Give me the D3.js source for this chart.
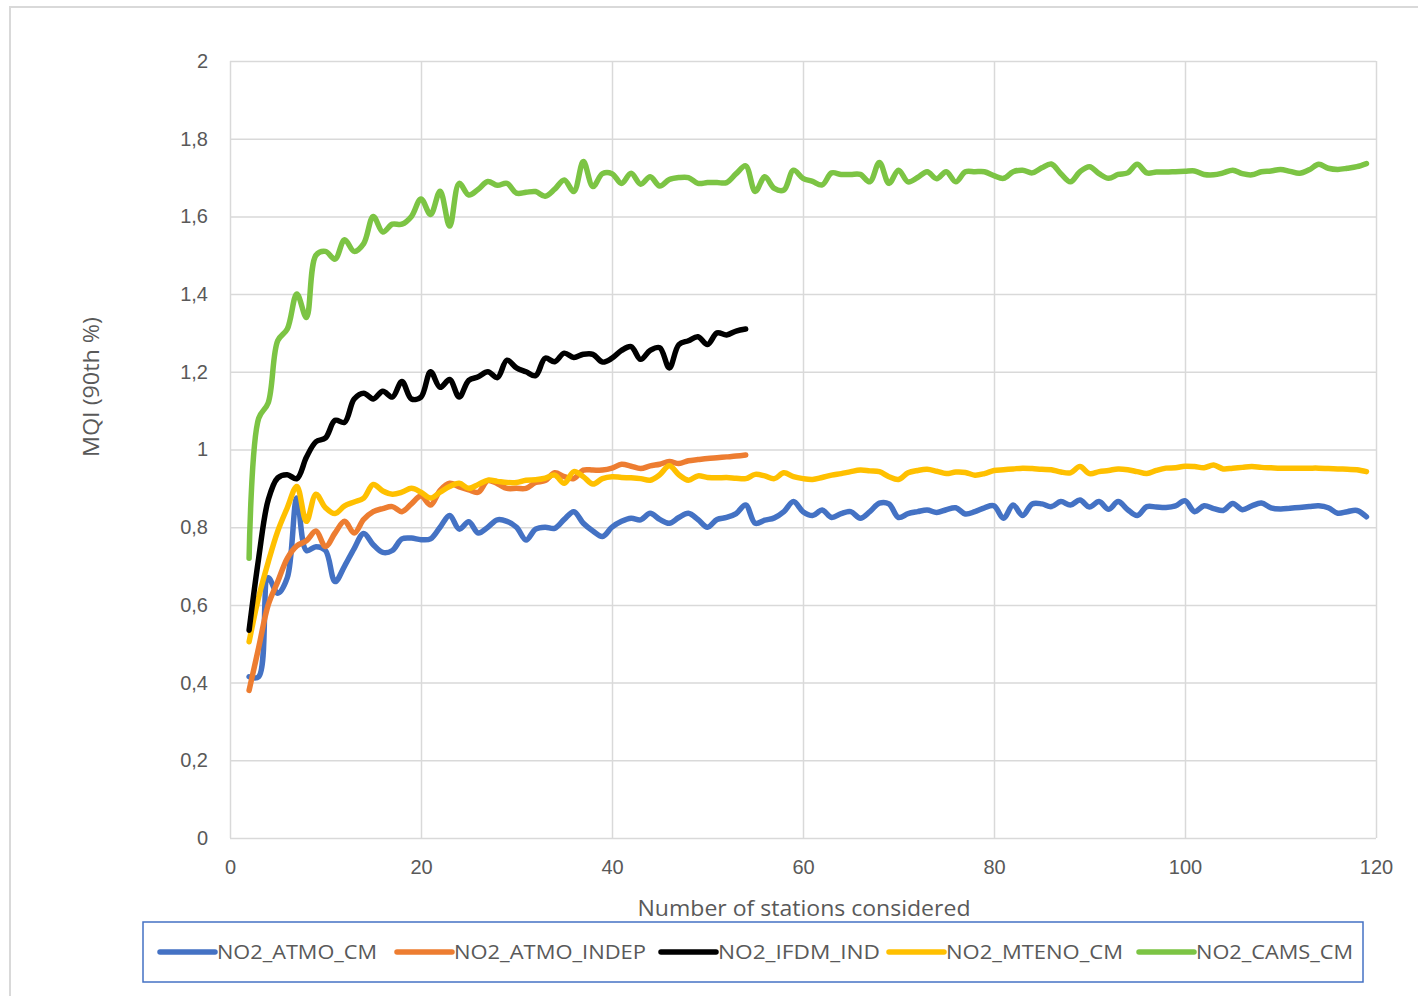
<!DOCTYPE html>
<html>
<head>
<meta charset="utf-8">
<script src="https://cdn.jsdelivr.net/npm/d3@7"></script>
<style>
  html, body { margin: 0; padding: 0; background: #fff; }
  svg { display: block; font-family: "Open Sans", "Noto Sans", sans-serif; }
</style>
</head>
<body>
<svg id="chart" width="1418" height="996"></svg>
<script>
// Number of stations considered: 2 .. 119
const stationsLong = d3.range(2, 120);
const stationsShort = d3.range(2, 55);

const atmoCM = [0.415,0.415,0.67,0.63,0.67,0.875,0.74,0.75,0.74,0.66,0.70,0.745,0.784,0.755,0.735,0.74,0.77,0.772,0.768,0.77,
  0.80,0.83,0.795,0.814,0.785,0.80,0.819,0.815,0.80,0.767,0.795,0.80,0.797,0.82,0.84,0.81,0.79,0.776,0.80,0.815,
  0.823,0.819,0.836,0.82,0.81,0.825,0.836,0.82,0.80,0.82,0.825,0.835,0.857,0.81,0.818,0.824,0.84,0.866,0.84,0.83,
  0.844,0.825,0.835,0.84,0.823,0.84,0.862,0.86,0.825,0.835,0.84,0.844,0.838,0.845,0.85,0.834,0.84,0.85,0.855,0.823,
  0.857,0.83,0.86,0.86,0.853,0.866,0.857,0.87,0.852,0.866,0.846,0.866,0.845,0.83,0.853,0.852,0.851,0.855,0.868,0.84,
  0.855,0.848,0.843,0.861,0.845,0.855,0.862,0.85,0.847,0.849,0.851,0.853,0.855,0.85,0.836,0.84,0.843,0.827];

const atmoIndep = [0.38,0.49,0.60,0.66,0.72,0.752,0.765,0.79,0.75,0.785,0.815,0.785,0.82,0.84,0.848,0.853,0.84,0.86,0.88,0.857,
  0.895,0.913,0.904,0.896,0.89,0.92,0.912,0.90,0.90,0.90,0.915,0.92,0.94,0.93,0.925,0.947,0.947,0.947,0.952,0.962,
  0.957,0.951,0.958,0.962,0.969,0.964,0.971,0.974,0.977,0.979,0.981,0.983,0.986];

const ifdmInd = [0.535,0.72,0.87,0.927,0.935,0.925,0.98,1.02,1.03,1.075,1.07,1.13,1.145,1.13,1.15,1.135,1.175,1.13,1.135,1.20,
  1.16,1.18,1.135,1.178,1.187,1.20,1.185,1.23,1.21,1.20,1.19,1.235,1.226,1.248,1.237,1.245,1.245,1.225,1.235,1.255,
  1.265,1.232,1.255,1.262,1.21,1.27,1.28,1.29,1.27,1.30,1.295,1.305,1.31];

const mtenoCM = [0.505,0.62,0.71,0.79,0.85,0.905,0.815,0.885,0.85,0.835,0.855,0.865,0.875,0.91,0.893,0.885,0.89,0.90,0.89,0.875,
  0.89,0.905,0.913,0.90,0.91,0.921,0.918,0.915,0.915,0.921,0.922,0.926,0.934,0.913,0.943,0.93,0.911,0.925,0.93,0.928,
  0.927,0.925,0.921,0.935,0.958,0.935,0.921,0.932,0.928,0.927,0.928,0.926,0.925,0.936,0.932,0.925,0.94,0.93,0.925,0.923,
  0.928,0.934,0.938,0.943,0.947,0.945,0.943,0.93,0.923,0.94,0.946,0.949,0.944,0.938,0.942,0.941,0.934,0.938,0.946,0.948,
  0.95,0.952,0.951,0.949,0.948,0.942,0.94,0.956,0.938,0.943,0.946,0.95,0.948,0.943,0.938,0.946,0.952,0.953,0.957,0.956,
  0.953,0.96,0.95,0.952,0.954,0.956,0.954,0.953,0.952,0.952,0.952,0.952,0.952,0.951,0.95,0.949,0.948,0.943];

const camsCM = [0.72,1.08,1.12,1.28,1.31,1.40,1.34,1.50,1.51,1.49,1.54,1.51,1.53,1.60,1.56,1.58,1.58,1.60,1.645,1.605,
  1.665,1.575,1.685,1.655,1.67,1.69,1.68,1.685,1.66,1.662,1.664,1.652,1.67,1.694,1.664,1.741,1.677,1.71,1.71,1.685,
  1.711,1.683,1.702,1.678,1.695,1.70,1.70,1.685,1.687,1.687,1.687,1.71,1.73,1.664,1.702,1.672,1.668,1.719,1.698,1.69,
  1.681,1.712,1.708,1.708,1.708,1.689,1.739,1.685,1.719,1.689,1.70,1.715,1.697,1.715,1.689,1.715,1.715,1.715,1.705,1.698,
  1.715,1.719,1.712,1.725,1.735,1.71,1.689,1.715,1.728,1.71,1.698,1.708,1.712,1.734,1.712,1.714,1.714,1.715,1.716,1.717,
  1.708,1.707,1.712,1.719,1.71,1.707,1.715,1.717,1.721,1.716,1.711,1.72,1.734,1.724,1.721,1.724,1.728,1.736];

const seriesNames = ["NO2_ATMO_CM", "NO2_ATMO_INDEP", "NO2_IFDM_IND", "NO2_MTENO_CM", "NO2_CAMS_CM"];
const seriesColors = ["#4472C4", "#ED7D31", "#000000", "#FFC000", "#7CC444"];
const seriesValues = [atmoCM, atmoIndep, ifdmInd, mtenoCM, camsCM];
const seriesX = [stationsLong, stationsShort, stationsShort, stationsLong, stationsLong];

const xTicks = [0, 20, 40, 60, 80, 100, 120];
const yTicks = [0, 0.2, 0.4, 0.6, 0.8, 1, 1.2, 1.4, 1.6, 1.8, 2];

const svg = d3.select("#chart");
const W = 1418, H = 996;
const plot = { left: 230, right: 1376, top: 61, bottom: 838 };

svg.append("rect").attr("width", W).attr("height", H).attr("fill", "#fff");
// chart frame
svg.append("rect").attr("x", 10).attr("y", 7).attr("width", W + 20).attr("height", H + 20)
  .attr("fill", "none").attr("stroke", "#d9d9d9").attr("stroke-width", 2);

const x = d3.scaleLinear().domain([0, 120]).range([plot.left, plot.right]);
const y = d3.scaleLinear().domain([0, 2]).range([plot.bottom, plot.top]);

const fmt = v => d3.format("~g")(v).replace(".", ",");
const grey = "#d9d9d9";
const textGrey = "#595959";

// horizontal gridlines + y labels
const yAxis = d3.axisLeft(y).tickValues(yTicks).tickFormat(fmt)
  .tickSize(-(plot.right - plot.left)).tickPadding(22);
const gy = svg.append("g").attr("transform", `translate(${plot.left},0)`).call(yAxis);
gy.select(".domain").remove();
gy.selectAll(".tick line").attr("stroke", grey).attr("stroke-width", 1.5);
gy.selectAll(".tick text").attr("fill", textGrey).style("font-size", "20px");

// vertical gridlines + x labels
const xAxis = d3.axisBottom(x).tickValues(xTicks).tickFormat(d3.format("d"))
  .tickSize(-(plot.bottom - plot.top)).tickPadding(22);
const gx = svg.append("g").attr("transform", `translate(0,${plot.bottom})`).call(xAxis);
gx.select(".domain").remove();
gx.selectAll(".tick line").attr("stroke", grey).attr("stroke-width", 1.5);
gx.selectAll(".tick text").attr("fill", textGrey).style("font-size", "20px");

// axis titles
svg.append("text").attr("x", 804).attr("y", 916)
  .attr("text-anchor", "middle").attr("fill", textGrey).style("font-size", "21px")
  .attr("textLength", 333).attr("lengthAdjust", "spacingAndGlyphs")
  .text("Number of stations considered");
svg.append("text").attr("transform", `translate(99,387) rotate(-90)`)
  .attr("text-anchor", "middle").attr("fill", textGrey).style("font-size", "21px")
  .attr("textLength", 140).attr("lengthAdjust", "spacingAndGlyphs")
  .text("MQI (90th %)");

// series lines
const line = d3.line().x(d => x(d[0])).y(d => y(d[1])).curve(d3.curveCatmullRom.alpha(0.5));
const order = [0, 1, 3, 2, 4];
order.forEach(i => {
  const pts = seriesX[i].map((s, k) => [s, seriesValues[i][k]]);
  svg.append("path").datum(pts)
    .attr("d", line).attr("fill", "none")
    .attr("stroke", seriesColors[i]).attr("stroke-width", 5.5)
    .attr("stroke-linejoin", "round").attr("stroke-linecap", "round");
});

// legend
svg.append("rect").attr("x", 143).attr("y", 922).attr("width", 1220).attr("height", 60)
  .attr("fill", "#fff").attr("stroke", "#4472C4").attr("stroke-width", 1.5);
const legendX = [158, 395, 659, 887, 1137];
const legendW = [160, 192, 162, 177, 157];
seriesNames.forEach((name, i) => {
  const g = svg.append("g").attr("transform", `translate(${legendX[i]},952)`);
  g.append("line").attr("x1", 2).attr("x2", 57).attr("y1", 0).attr("y2", 0)
    .attr("stroke", seriesColors[i]).attr("stroke-width", 5.5).attr("stroke-linecap", "round");
  g.append("text").attr("x", 59).attr("y", 7).attr("fill", textGrey)
    .style("font-size", "20px")
    .attr("textLength", legendW[i]).attr("lengthAdjust", "spacingAndGlyphs")
    .text(name);
});
</script>
</body>
</html>
